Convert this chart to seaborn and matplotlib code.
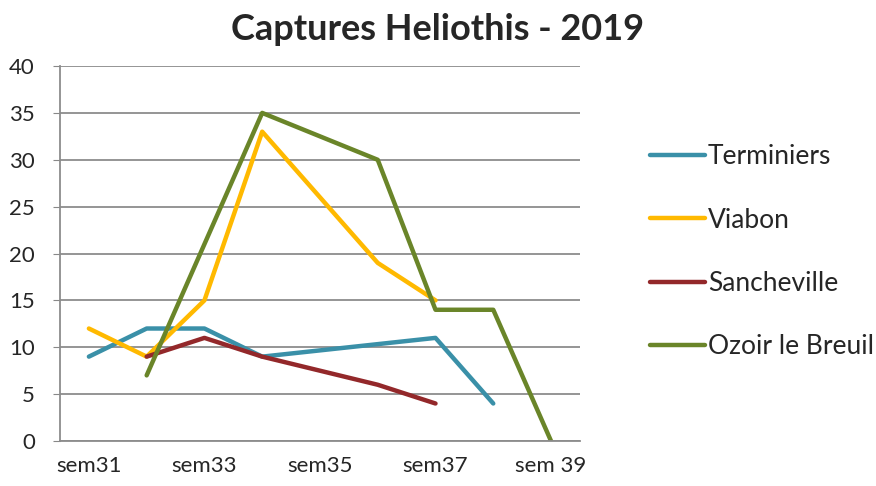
import numpy as np
import pandas as pd
import seaborn as sns
import matplotlib.pyplot as plt

weeks = ["sem31", "sem32", "sem33", "sem34", "sem35", "sem36", "sem37", "sem38", "sem39"]
week_labels = ["sem31", "", "sem33", "", "sem35", "", "sem37", "", "sem 39"]
nan = np.nan
terminiers = [9, 12, 12, 9, nan, nan, 11, 4, nan]
viabon = [12, 9, 15, 33, nan, 19, 15, nan, nan]
sancheville = [nan, 9, 11, 9, nan, 6, 4, nan, nan]
ozoir = [nan, 7, nan, 35, nan, 30, 14, 14, 0]

sites = ["Terminiers", "Viabon", "Sancheville", "Ozoir le Breuil"]
colors = ["#3A90A8", "#FFB900", "#93282A", "#6A8529"]

rows = []
for name, vals in zip(sites, [terminiers, viabon, sancheville, ozoir]):
    for i, v in enumerate(vals):
        if not np.isnan(v):
            rows.append((name, i, v))
df = pd.DataFrame(rows, columns=["site", "pos", "val"])

sns.set_style("white")
plt.rcParams['font.family'] = ['Lato', 'DejaVu Sans']

fig = plt.figure(figsize=(8.76, 4.86), dpi=100)
ax = fig.add_axes([0.0685, 0.0926, 0.5935, 0.7715])

sns.lineplot(data=df, x="pos", y="val", hue="site", hue_order=sites,
             palette=colors, linewidth=3.2, ax=ax, solid_capstyle="round")

ax.set_xlim(-0.5, len(weeks) - 0.5)
ax.set_ylim(0, 40)
ax.set_yticks(range(0, 41, 5))
ax.set_xticks(range(len(weeks)))
ax.set_xticklabels(week_labels, fontsize=16)
ax.tick_params(axis="y", labelsize=16, length=5, color="#888888", direction="out", left=True, pad=13)
ax.tick_params(axis="x", length=0, pad=11)
ax.yaxis.grid(True, color="#8c8c8c", linewidth=1.3)
ax.set_axisbelow(True)
ax.set_xlabel("")
ax.set_ylabel("")
for s in ["top", "right"]:
    ax.spines[s].set_visible(False)
for s in ["left", "bottom"]:
    ax.spines[s].set_color("#8c8c8c")
    ax.spines[s].set_linewidth(1.3)

ax.legend(frameon=False, fontsize=19, loc="upper left", bbox_to_anchor=(0.742, 0.703),
          bbox_transform=fig.transFigure, handlelength=2.1, handletextpad=0.1,
          labelspacing=1.45, borderaxespad=0, borderpad=0)

fig.suptitle("Captures Heliothis - 2019", fontsize=26, fontweight="bold", x=0.5, y=0.973)

plt.savefig("out.png", dpi=100)
